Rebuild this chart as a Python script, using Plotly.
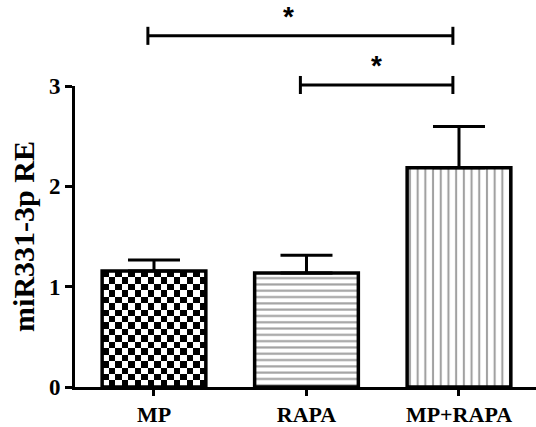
import numpy as np
import plotly.graph_objects as go

categories = ["MP", "RAPA", "MP+RAPA"]
means = [1.157, 1.137, 2.186]
sem = [0.11, 0.175, 0.41]
y_ticks = [0, 1, 2, 3]
comparisons = [(0, 2), (1, 2)]
comparison_labels = ["*", "*"]

# style
Y_RANGE = [0, 3]
BAR_W = 0.68
bracket_levels = [3.5, 3.01]
bracket_dx = -0.04
bracket_tick = 0.09
star_offset = 0.19
star_dx = [-0.08, 0.0]
serif = "Liberation Serif"


def to_paper(v):
    return (v - Y_RANGE[0]) / (Y_RANGE[1] - Y_RANGE[0])


xpos = list(range(len(categories)))
fig = go.Figure()

# checkerboard fill for the first bar (MP)
nx, ny = 16, 18
x_edges = np.linspace(xpos[0] - BAR_W / 2, xpos[0] + BAR_W / 2, nx + 1)
y_edges = np.linspace(0, means[0], ny + 1)
z = np.indices((ny, nx)).sum(axis=0) % 2
fig.add_trace(go.Heatmap(x=x_edges, y=y_edges, z=z,
                         colorscale=[[0, "white"], [1, "black"]],
                         showscale=False, hoverinfo="skip"))

fig.add_trace(go.Bar(
    x=xpos, y=means, width=BAR_W,
    marker=dict(color=["rgba(0,0,0,0)", "white", "white"],
                line=dict(color="black", width=3.5),
                pattern=dict(shape=["", "-", "|"], size=[6, 6.3, 7.7],
                             solidity=[0.25, 0.34, 0.27],
                             fgcolor="black", bgcolor="white")),
    error_y=dict(type="data", array=sem, arrayminus=[0] * len(sem),
                 symmetric=False, color="black", thickness=3, width=26),
    showlegend=False))

line_style = dict(color="black", width=3)
for (a, b), lvl, lab, sdx in zip(comparisons, bracket_levels,
                                 comparison_labels, star_dx):
    xa, xb = a + bracket_dx, b + bracket_dx
    fig.add_shape(type="line", xref="x", yref="paper", x0=xa, x1=xb,
                  y0=to_paper(lvl), y1=to_paper(lvl), line=line_style)
    for xe in (xa, xb):
        fig.add_shape(type="line", xref="x", yref="paper", x0=xe, x1=xe,
                      y0=to_paper(lvl - bracket_tick),
                      y1=to_paper(lvl + bracket_tick), line=line_style)
    fig.add_annotation(x=(xa + xb) / 2 + sdx, y=to_paper(lvl + star_offset),
                       xref="x", yref="paper",
                       text=lab, showarrow=False, yanchor="middle",
                       font=dict(family="Liberation Sans", size=28,
                                 color="black", weight="bold"))

fig.update_layout(
    width=536, height=427,
    margin=dict(l=75, r=0, t=86, b=34),
    plot_bgcolor="white", paper_bgcolor="white",
    showlegend=False,
    xaxis=dict(range=[-0.518, 2.505], tickvals=xpos, ticktext=categories,
               showline=True, linecolor="black", linewidth=3,
               ticks="outside", ticklen=6, tickwidth=3, tickcolor="black",
               showgrid=False, zeroline=False,
               tickfont=dict(family=serif, size=22, color="black",
                             weight="bold")),
    yaxis=dict(range=Y_RANGE, tickvals=y_ticks,
               showline=True, linecolor="black", linewidth=3,
               ticks="outside", ticklen=7, tickwidth=3, tickcolor="black",
               showgrid=False, zeroline=False,
               tickfont=dict(family=serif, size=23, color="black",
                             weight="bold"),
               title=dict(text="miR331-3p RE", standoff=6,
                          font=dict(family=serif, size=30, color="black",
                                    weight="bold"))),
)

fig.write_html("out.html", config={"displayModeBar": False},
               post_script="document.body.style.margin='0px';")
